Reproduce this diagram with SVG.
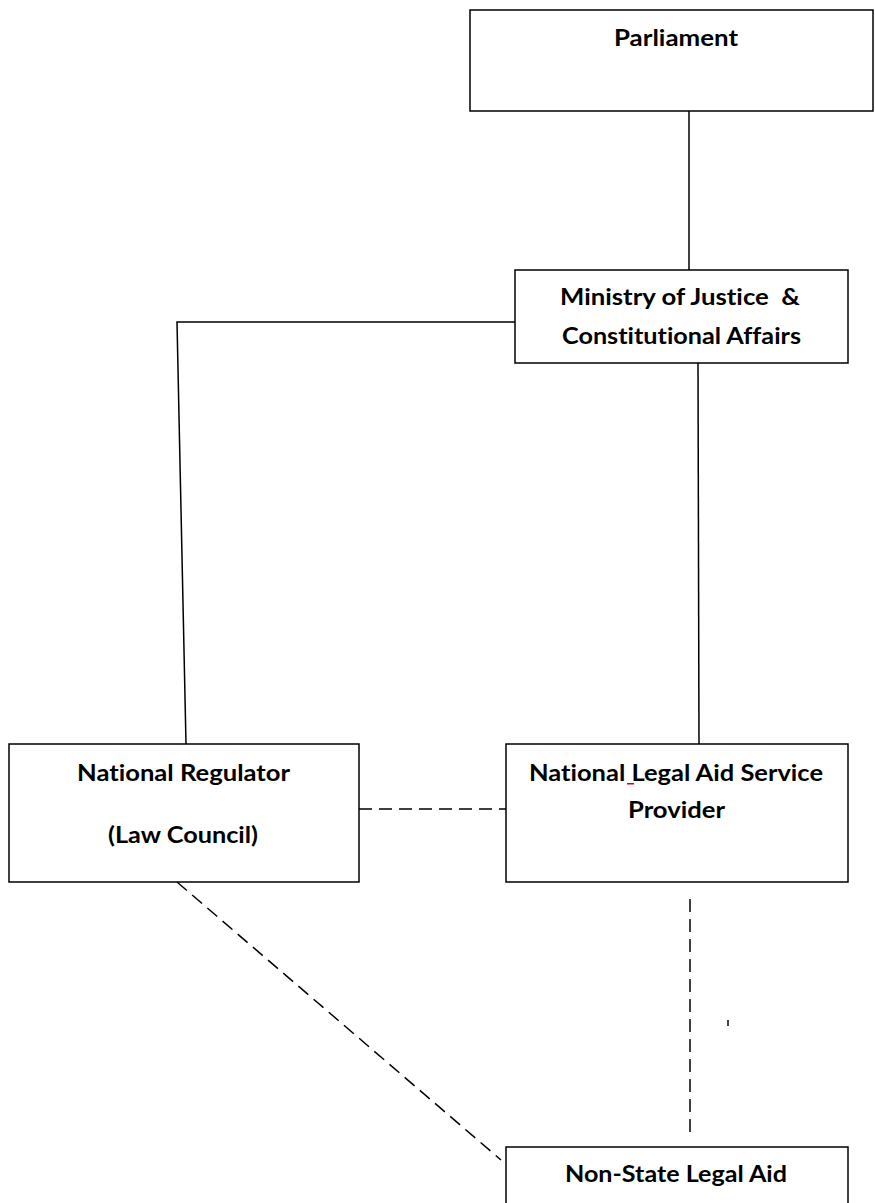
<svg xmlns="http://www.w3.org/2000/svg" width="875" height="1203" viewBox="0 0 875 1203">
<style>
.box{fill:#fff;stroke:#000;stroke-width:1.5}
.lbl{font-family:Lato,"Liberation Sans",sans-serif;font-weight:bold;font-size:23.5px;fill:#000;text-anchor:middle;white-space:pre;font-variant-ligatures:none;font-feature-settings:"liga" 0,"clig" 0}
.ln{fill:none;stroke:#000;stroke-width:1.5}
.dash{fill:none;stroke:#000;stroke-width:1.5;stroke-dasharray:13 7}
</style>
<rect width="875" height="1203" fill="#fff"/>
<g id="connectors">
<line class="ln" x1="689" y1="111" x2="689" y2="270"/>
<polyline class="ln" points="515,322 177,322 186,744"/>
<line class="ln" x1="698" y1="363" x2="699" y2="744"/>
<line class="dash" x1="359" y1="809" x2="506" y2="809"/>
<line class="dash" x1="690" y1="1132" x2="690" y2="892"/>
<line class="dash" x1="177" y1="882" x2="501" y2="1160"/>
<line class="ln" x1="728" y1="1020" x2="728" y2="1026"/>
</g>
<g id="parliament">
<rect class="box" x="470" y="10" width="403" height="101"/>
<text class="lbl" x="676" y="46" textLength="124" lengthAdjust="spacingAndGlyphs">Parliament</text>
</g>
<g id="ministry">
<rect class="box" x="515" y="270" width="333" height="93"/>
<text class="lbl" x="680" y="305" textLength="240" lengthAdjust="spacingAndGlyphs">Ministry of Justice  &amp;</text>
<text class="lbl" x="681.5" y="344" textLength="239" lengthAdjust="spacingAndGlyphs">Constitutional Affairs</text>
</g>
<g id="regulator">
<rect class="box" x="9" y="744" width="350" height="138"/>
<text class="lbl" x="183.5" y="781" textLength="213" lengthAdjust="spacingAndGlyphs">National Regulator</text>
<text class="lbl" x="183" y="843" textLength="150" lengthAdjust="spacingAndGlyphs">(Law Council)</text>
</g>
<g id="nlasp">
<rect class="box" x="506" y="744" width="342" height="138"/>
<text class="lbl" x="676" y="781" textLength="294" lengthAdjust="spacingAndGlyphs">National Legal Aid Service</text>
<text class="lbl" x="676.5" y="818" textLength="97" lengthAdjust="spacingAndGlyphs">Provider</text>
<rect x="627" y="783" width="7" height="1.5" fill="#e00000"/>
</g>
<g id="nonstate">
<rect class="box" x="506" y="1147" width="342" height="70"/>
<text class="lbl" x="676" y="1182" textLength="222" lengthAdjust="spacingAndGlyphs">Non-State Legal Aid</text>
</g>
</svg>
